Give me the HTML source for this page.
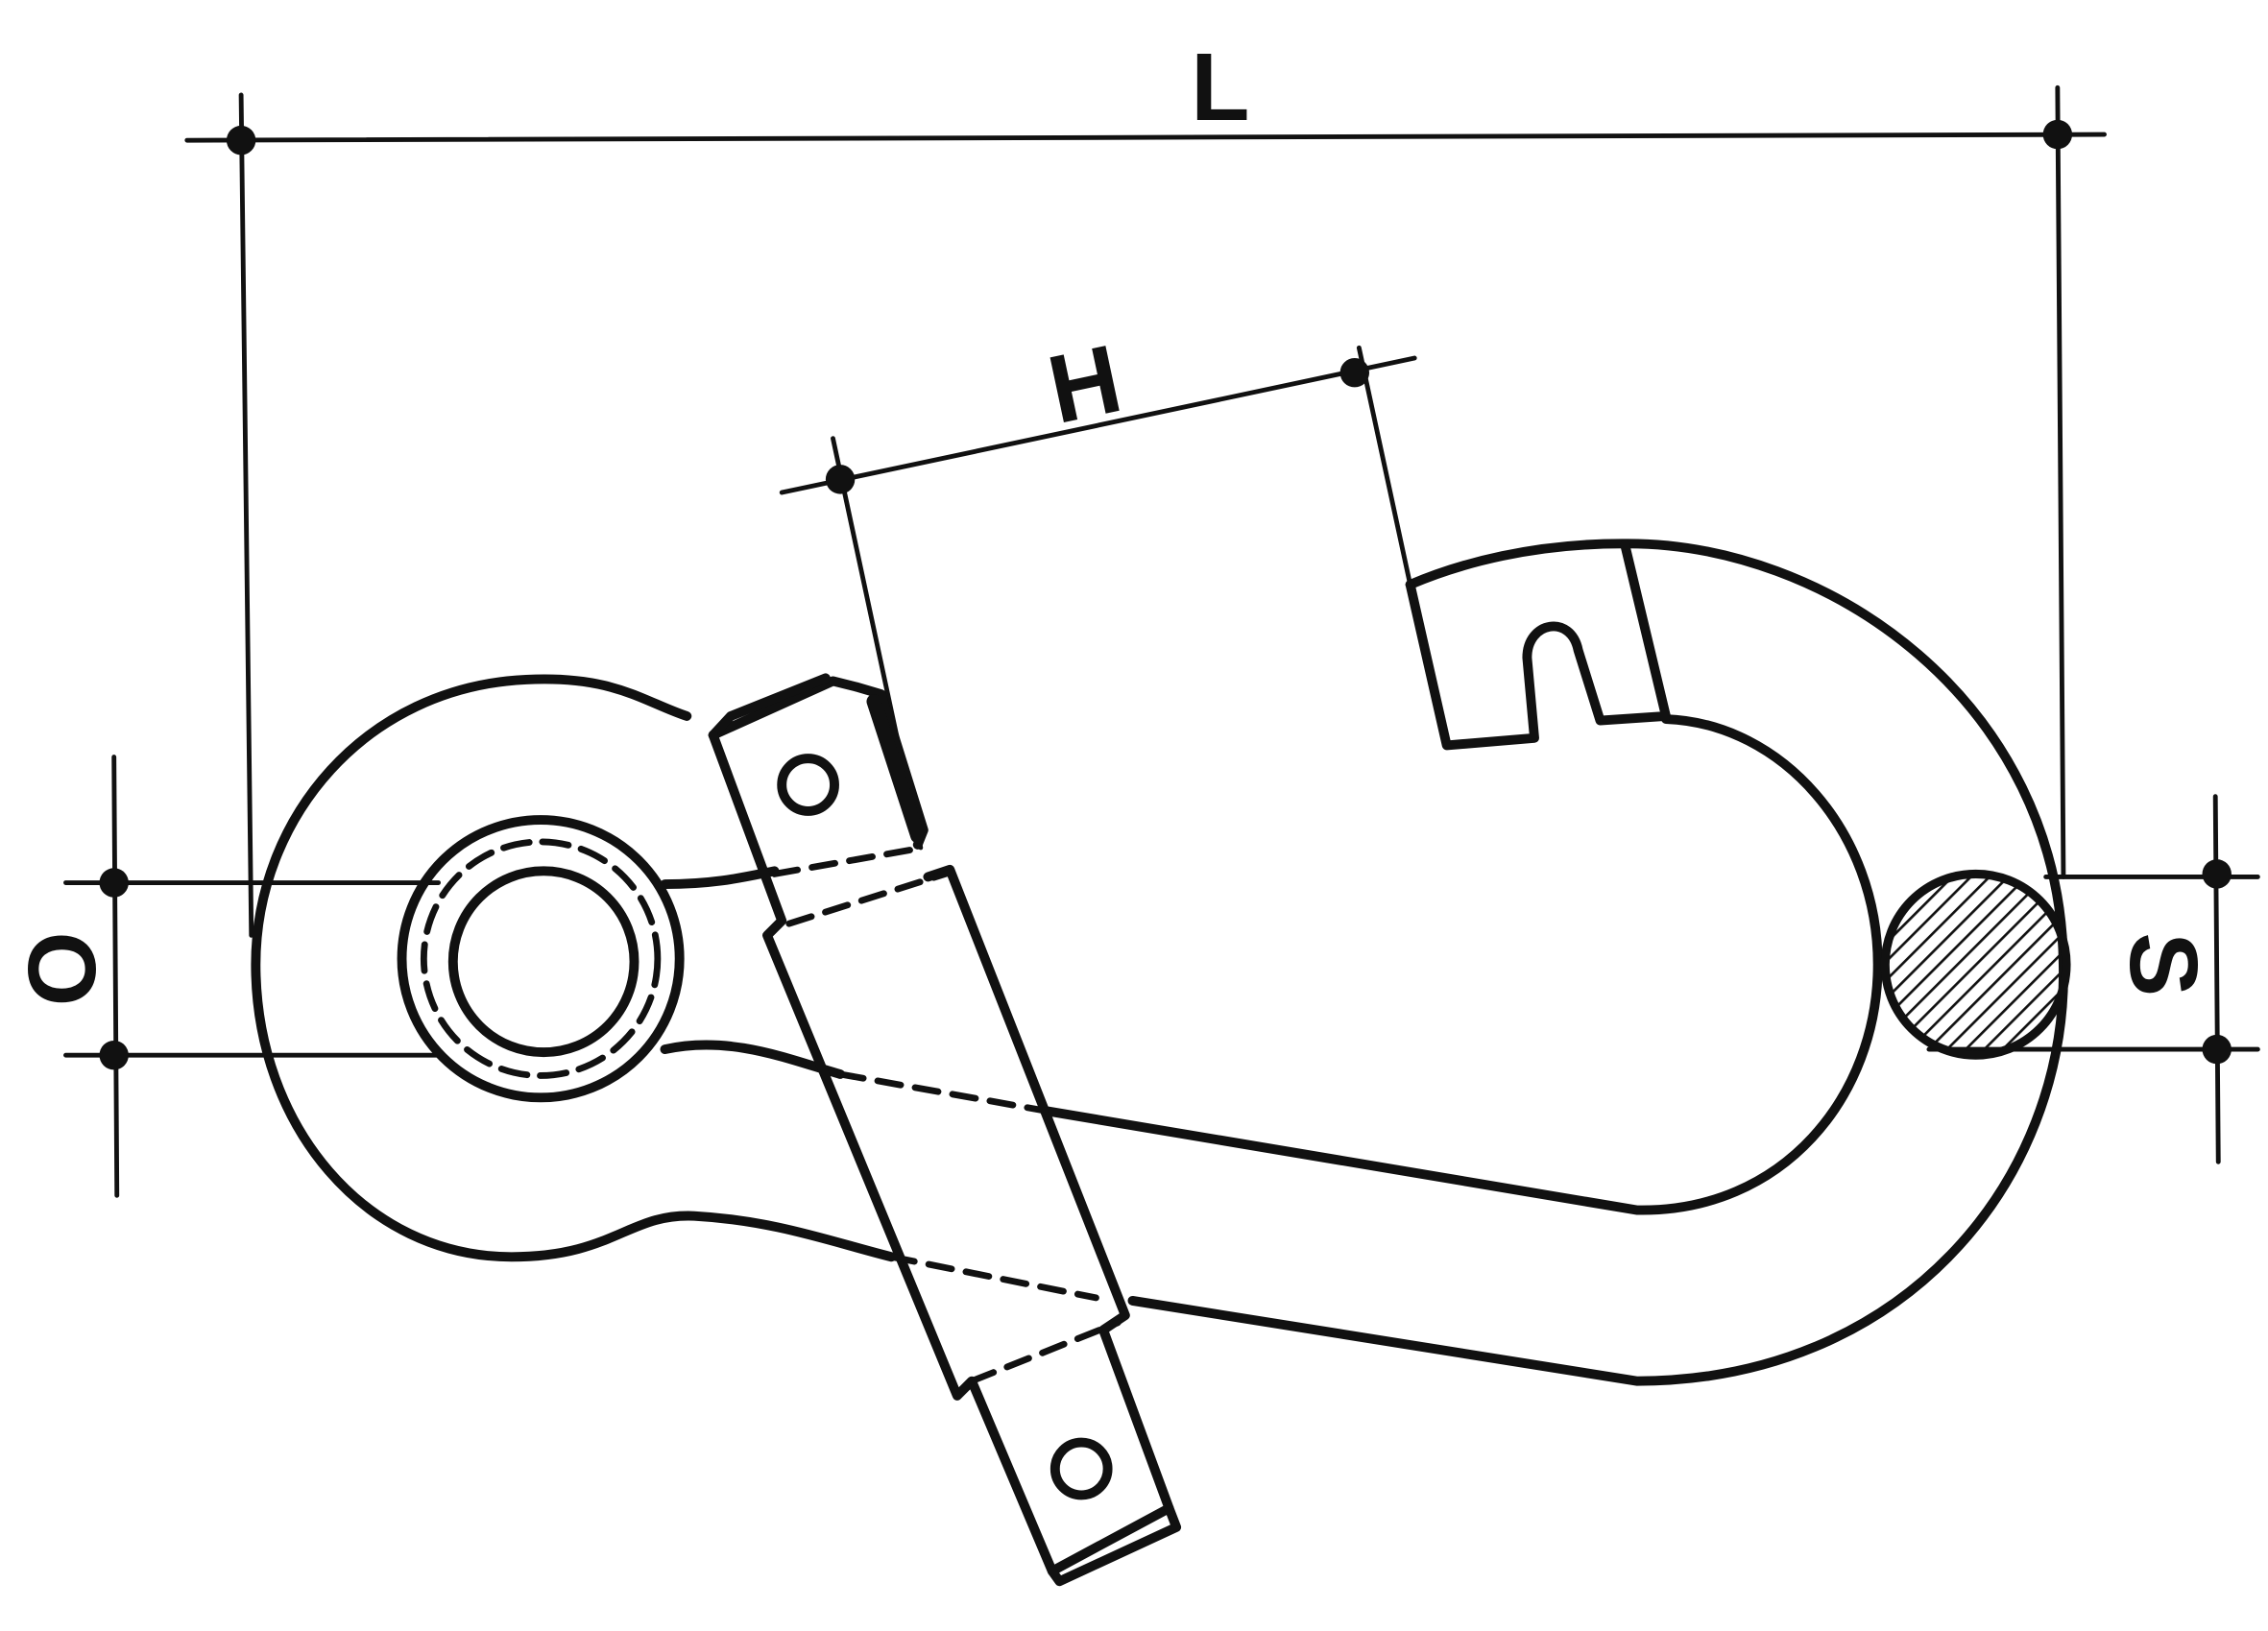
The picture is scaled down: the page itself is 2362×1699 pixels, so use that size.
<!DOCTYPE html>
<html><head><meta charset="utf-8"><style>
html,body{margin:0;padding:0;background:#fff;}
svg{display:block}
text{font-family:"Liberation Sans",sans-serif;font-weight:bold;fill:#111}
</style></head><body>
<svg width="2362" height="1699" viewBox="0 0 1552 1116" preserveAspectRatio="none">
<defs>
<pattern id="h" width="9" height="9" patternUnits="userSpaceOnUse" patternTransform="rotate(45)">
<line x1="0" y1="0" x2="0" y2="9" stroke="#111" stroke-width="3.5"/>
</pattern>
<clipPath id="cc"><circle cx="1352" cy="660" r="62"/></clipPath>
</defs>
<g stroke="#111" fill="none" stroke-linecap="round" stroke-linejoin="round">
<g stroke-width="3.2">
<line x1="128" y1="96" x2="1440" y2="92"/>
<line x1="165" y1="65" x2="172" y2="640"/>
<line x1="1408" y1="60" x2="1412" y2="600"/>
<line x1="535" y1="337" x2="968" y2="245"/>
<line x1="570" y1="300" x2="630" y2="580"/>
<line x1="930" y1="238" x2="965" y2="400"/>
<line x1="45" y1="604" x2="300" y2="604"/>
<line x1="45" y1="722" x2="300" y2="722"/>
<line x1="78" y1="518" x2="80" y2="818"/>
<line x1="1400" y1="600" x2="1545" y2="600"/>
<line x1="1320" y1="718" x2="1545" y2="718"/>
<line x1="1516" y1="545" x2="1518" y2="795"/>
</g>
<g stroke-width="6.5">
<path d="M470,490 C440,480 420,462 360,465 C250,470 175,560 175,660 C175,770 250,860 350,860 C420,860 430,830 475,832 C530,835 570,850 610,860"/>
<path d="M455,605 C490,605 510,600 530,596"/>
<path d="M455,718 C500,708 540,725 575,735"/>
<circle cx="370" cy="656" r="95"/>
<circle cx="372" cy="658" r="62"/>
<path d="M715,760 L1120,828 C1220,830 1285,750 1285,660 C1285,570 1220,495 1140,492"/>
<path d="M775,890 L1120,945 C1300,945 1415,810 1412,660 C1410,480 1250,370 1110,372 C1050,372 1000,385 965,400"/>
<path d="M965,400 L990,510 L1050,505 L1045,450 C1045,425 1075,420 1080,445 L1095,493 L1140,490 L1112,373"/>
<path d="M488,503 L570,466 L586,470 L603,475 L632,568 L628,578"/>
<path d="M488,503 L500,490 L565,464"/>
<path d="M488,503 L535,630 L525,640 L655,955 L665,945 L720,1075 L800,1032 L755,910 L770,900 L650,595 L635,600"/>
<path d="M720,1075 L725,1082 L805,1045 L800,1032"/>
<circle cx="553" cy="537" r="18"/>
<circle cx="740" cy="1005" r="18"/>
</g>
<path d="M598,480 L628,572" stroke-width="10"/>
<circle cx="370" cy="656" r="80" stroke-width="4.5" stroke-dasharray="18 9"/>
<g stroke-width="4.5" stroke-dasharray="16 10">
<path d="M530,598 L632,580"/>
<path d="M540,632 L650,597"/>
<path d="M575,735 L715,760"/>
<path d="M610,860 L750,888"/>
<path d="M665,945 L765,905"/>
</g>
</g>
<rect x="1280" y="590" width="150" height="150" fill="url(#h)" clip-path="url(#cc)"/>
<circle cx="1352" cy="660" r="62" stroke="#111" stroke-width="6" fill="none"/>
<g fill="#111">
<circle cx="165" cy="96" r="10"/><circle cx="1408" cy="92" r="10"/>
<circle cx="575" cy="328" r="10"/><circle cx="927" cy="255" r="10"/>
<circle cx="78" cy="604" r="10"/><circle cx="78" cy="722" r="10"/>
<circle cx="1517" cy="598" r="10"/><circle cx="1517" cy="718" r="10"/>
</g>
<text x="835" y="82" font-size="66" text-anchor="middle">L</text>
<text x="0" y="0" font-size="66" text-anchor="middle" transform="translate(747,285) rotate(-12)">H</text>
<text x="0" y="0" font-size="66" text-anchor="middle" transform="translate(65,663) rotate(-90)">O</text>
<text x="0" y="0" font-size="66" text-anchor="middle" transform="translate(1458,660) rotate(90)">S</text>
</svg>
</body></html>
